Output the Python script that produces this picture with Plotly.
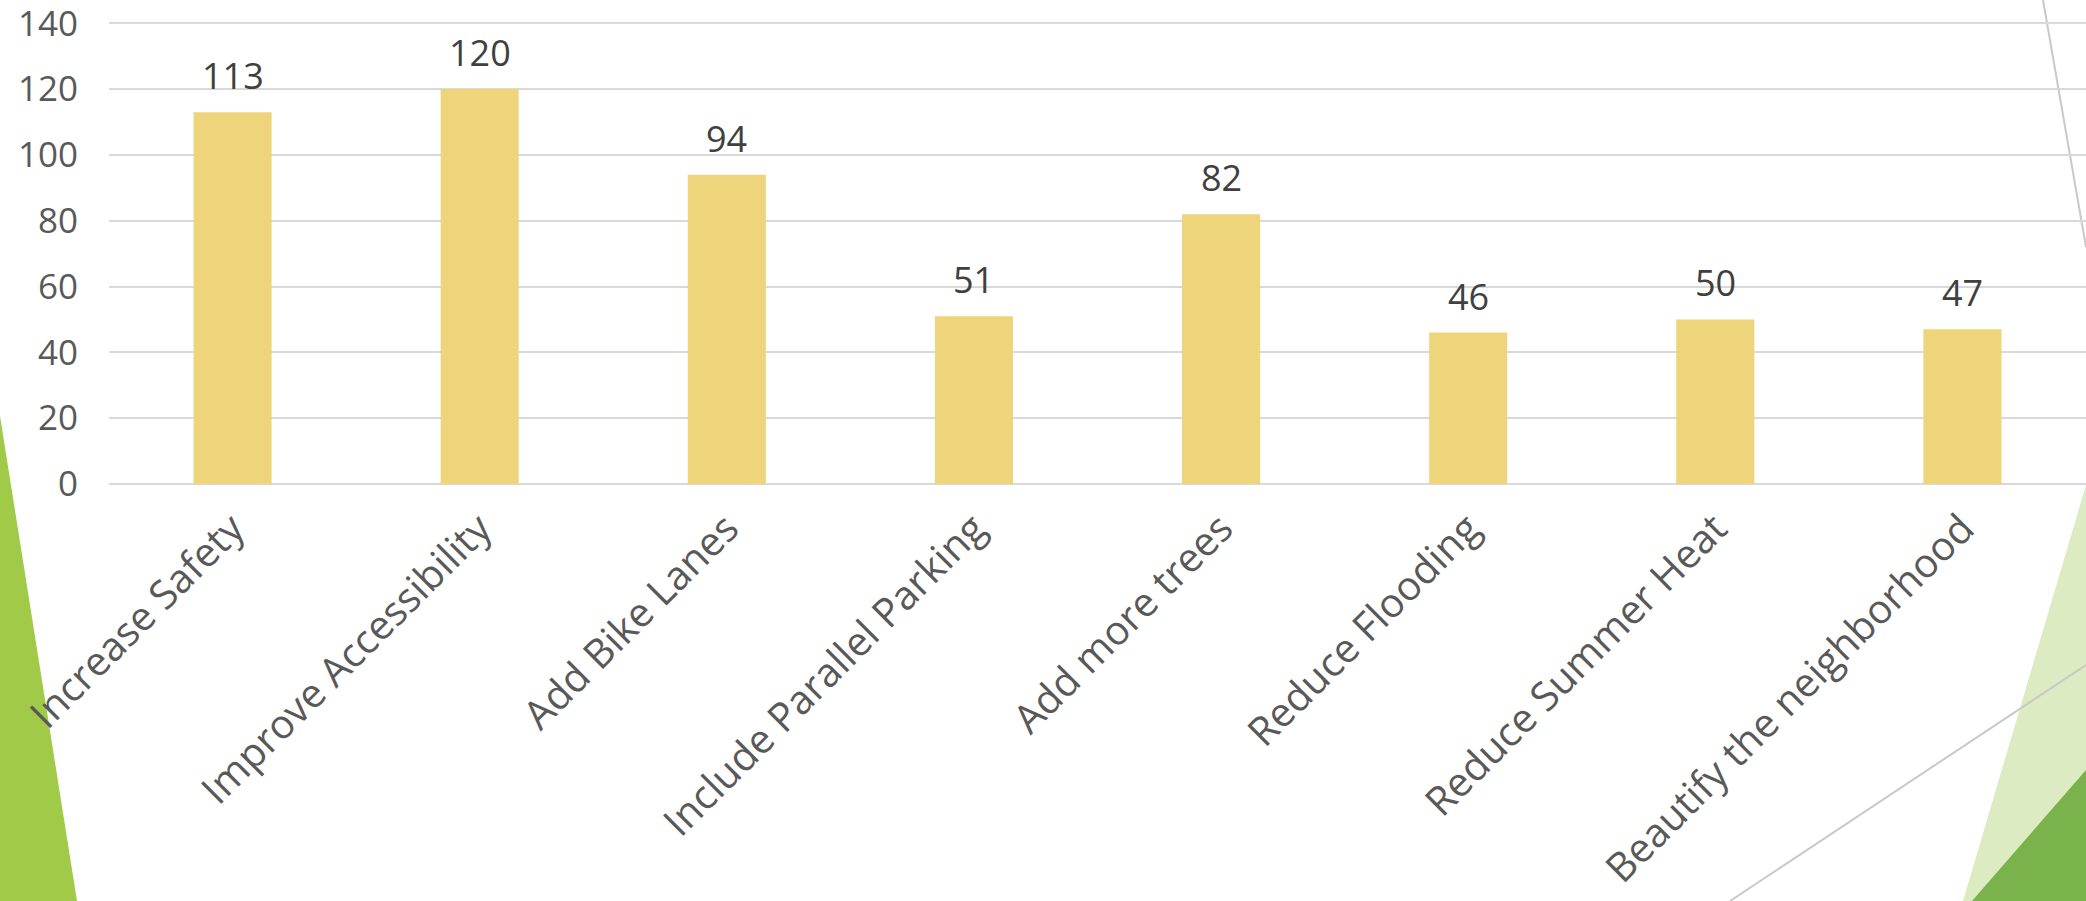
import plotly.graph_objects as go

categories = ["Increase Safety", "Improve Accessibility", "Add Bike Lanes",
              "Include Parallel Parking", "Add more trees", "Reduce Flooding",
              "Reduce Summer Heat", "Beautify the neighborhood"]
values = [113, 120, 94, 51, 82, 46, 50, 47]
y_ticks = [0, 20, 40, 60, 80, 100, 120, 140]

W, H = 2086, 901
ML, MR, MT, MB = 109, 0, 20, 417
PW, PH = W - ML - MR, H - MT - MB


def px(x, y):
    return (x - ML) / PW, (H - MB - y) / PH


def poly(points):
    pts = [px(x, y) for x, y in points]
    return "M " + " L ".join(f"{a:.5f},{b:.5f}" for a, b in pts) + " Z"


def seg(p0, p1):
    (x0, y0), (x1, y1) = px(*p0), px(*p1)
    return dict(type="line", xref="paper", yref="paper", x0=x0, y0=y0, x1=x1, y1=y1,
                line=dict(color="#c9c9c9", width=2), layer="below")


FONT = "Open Sans, Noto Sans, DejaVu Sans, sans-serif"

fig = go.Figure(go.Bar(
    x=categories, y=values,
    marker=dict(color="#EED47A", line=dict(width=0)),
    hoverinfo="x+y",
))

for c, v in zip(categories, values):
    fig.add_annotation(x=c, y=v, text=str(v), showarrow=False, yanchor="bottom",
                       yshift=10, font=dict(family=FONT, size=36, color="#404040"))

shapes = [
    dict(type="path", xref="paper", yref="paper", path=poly([(0, 416), (77, 901), (0, 901)]),
         fillcolor="#A0CA48", line=dict(width=0), layer="below"),
    dict(type="path", xref="paper", yref="paper", path=poly([(2086, 485), (1963, 901), (2086, 901)]),
         fillcolor="#DDEBC2", line=dict(width=0), layer="below"),
    seg((1730, 901), (2086, 665)),
    dict(type="path", xref="paper", yref="paper", path=poly([(2086, 770), (1972, 901), (2086, 901)]),
         fillcolor="#7AB24B", line=dict(width=0), layer="below"),
    seg((2043, 0), (2086, 247)),
]

fig.update_layout(
    width=W, height=H,
    margin=dict(l=ML, r=MR, t=MT, b=MB, pad=0),
    paper_bgcolor="white", plot_bgcolor="rgba(0,0,0,0)",
    bargap=0.684,
    showlegend=False,
    shapes=shapes,
    font=dict(family=FONT, color="#595959"),
    xaxis=dict(tickangle=-45, tickfont=dict(family=FONT, size=40, color="#595959"),
               showgrid=False, showline=False, zeroline=False, ticks="",
               ticklabelstandoff=12, fixedrange=True),
    yaxis=dict(range=[0, 141], tickvals=y_ticks, ticktext=[str(t) for t in y_ticks],
               tickfont=dict(family=FONT, size=35, color="#595959"),
               showgrid=True, gridcolor="#d9d9d9", gridwidth=2,
               zeroline=True, zerolinecolor="#d9d9d9", zerolinewidth=2,
               showline=False, ticks="", ticklabelstandoff=30,
               ticklabeloverflow="allow", fixedrange=True),
)

fig.write_html("out.html", include_plotlyjs=True, config={"displayModeBar": False})
